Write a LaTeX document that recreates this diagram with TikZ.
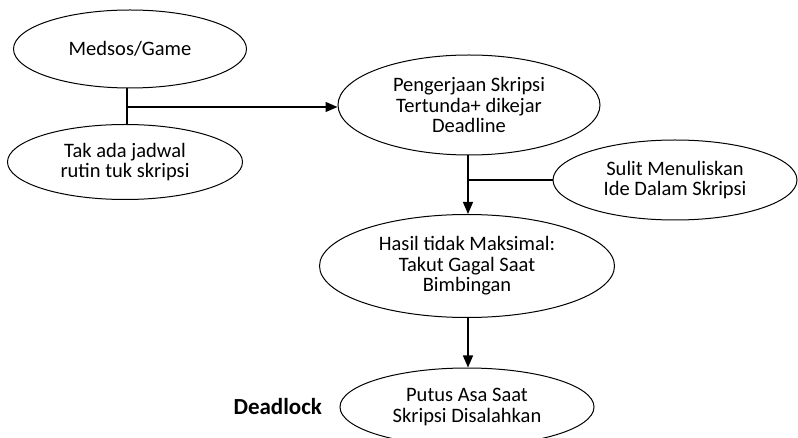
\documentclass[tikz,border=0pt]{standalone}
\usepackage{fontspec}
\setmainfont{Carlito}
\usetikzlibrary{arrows.meta,positioning,shapes.geometric}

\begin{document}
\begin{tikzpicture}
    [x=1pt, y=-1pt, font=\fontsize{20.5}{20.5}\selectfont,
    % STYLES
    % The cause style is used to draw every ellipse of the diagram
    cause/.style={ellipse, draw, line width=1pt, inner sep=0pt, align=center},
    % The link style is used for the plain joining lines
    link/.style={line width=1.2pt},
    % The flow style is used for the arrows
    flow/.style={line width=1.2pt, -{Triangle[length=12pt, width=10pt]}}]

    \useasboundingbox (0,0) rectangle (798,438);
    \clip (0,0) rectangle (798,438);

    % Draw causes
    \node [cause, minimum width=233pt, minimum height=78pt] (med) at (130,49) {Medsos/Game};
    \node [cause, minimum width=235pt, minimum height=75pt] (tak) at (125,162) {Tak ada jadwal\\rutin tuk skripsi};
    \node [cause, minimum width=262pt, minimum height=100pt] (peng) at (469,105) {Pengerjaan Skripsi\\Tertunda+ dikejar\\Deadline};
    \node [cause, minimum width=244pt, minimum height=80pt] (sulit) at (675,180) {Sulit Menuliskan\\Ide Dalam Skripsi};
    \node [cause, minimum width=295pt, minimum height=103pt] (hasil) at (467,266) {Hasil tidak Maksimal:\\Takut Gagal Saat\\Bimbingan};
    \node [cause, minimum width=254pt, minimum height=78pt] (putus) at (467,407) {Putus Asa Saat\\Skripsi Disalahkan};
    \node [font=\fontsize{23}{26}\selectfont\bfseries, left=14pt of putus] (dead) {Deadlock};

    % Junctions
    \coordinate (j1) at (127,107);
    \coordinate (j2) at (468,180);

    \draw [link] (med.south -| j1) -- (tak.north -| j1);
    \draw [flow] (j1) -- (j1 -| peng.west);
    \draw [flow] (peng.south -| j2) -- (hasil.north -| j2);
    \draw [link] (sulit.west) -- (j2);
    \draw [flow] (hasil.south -| j2) -- (putus.north -| j2);
\end{tikzpicture}
\end{document}
